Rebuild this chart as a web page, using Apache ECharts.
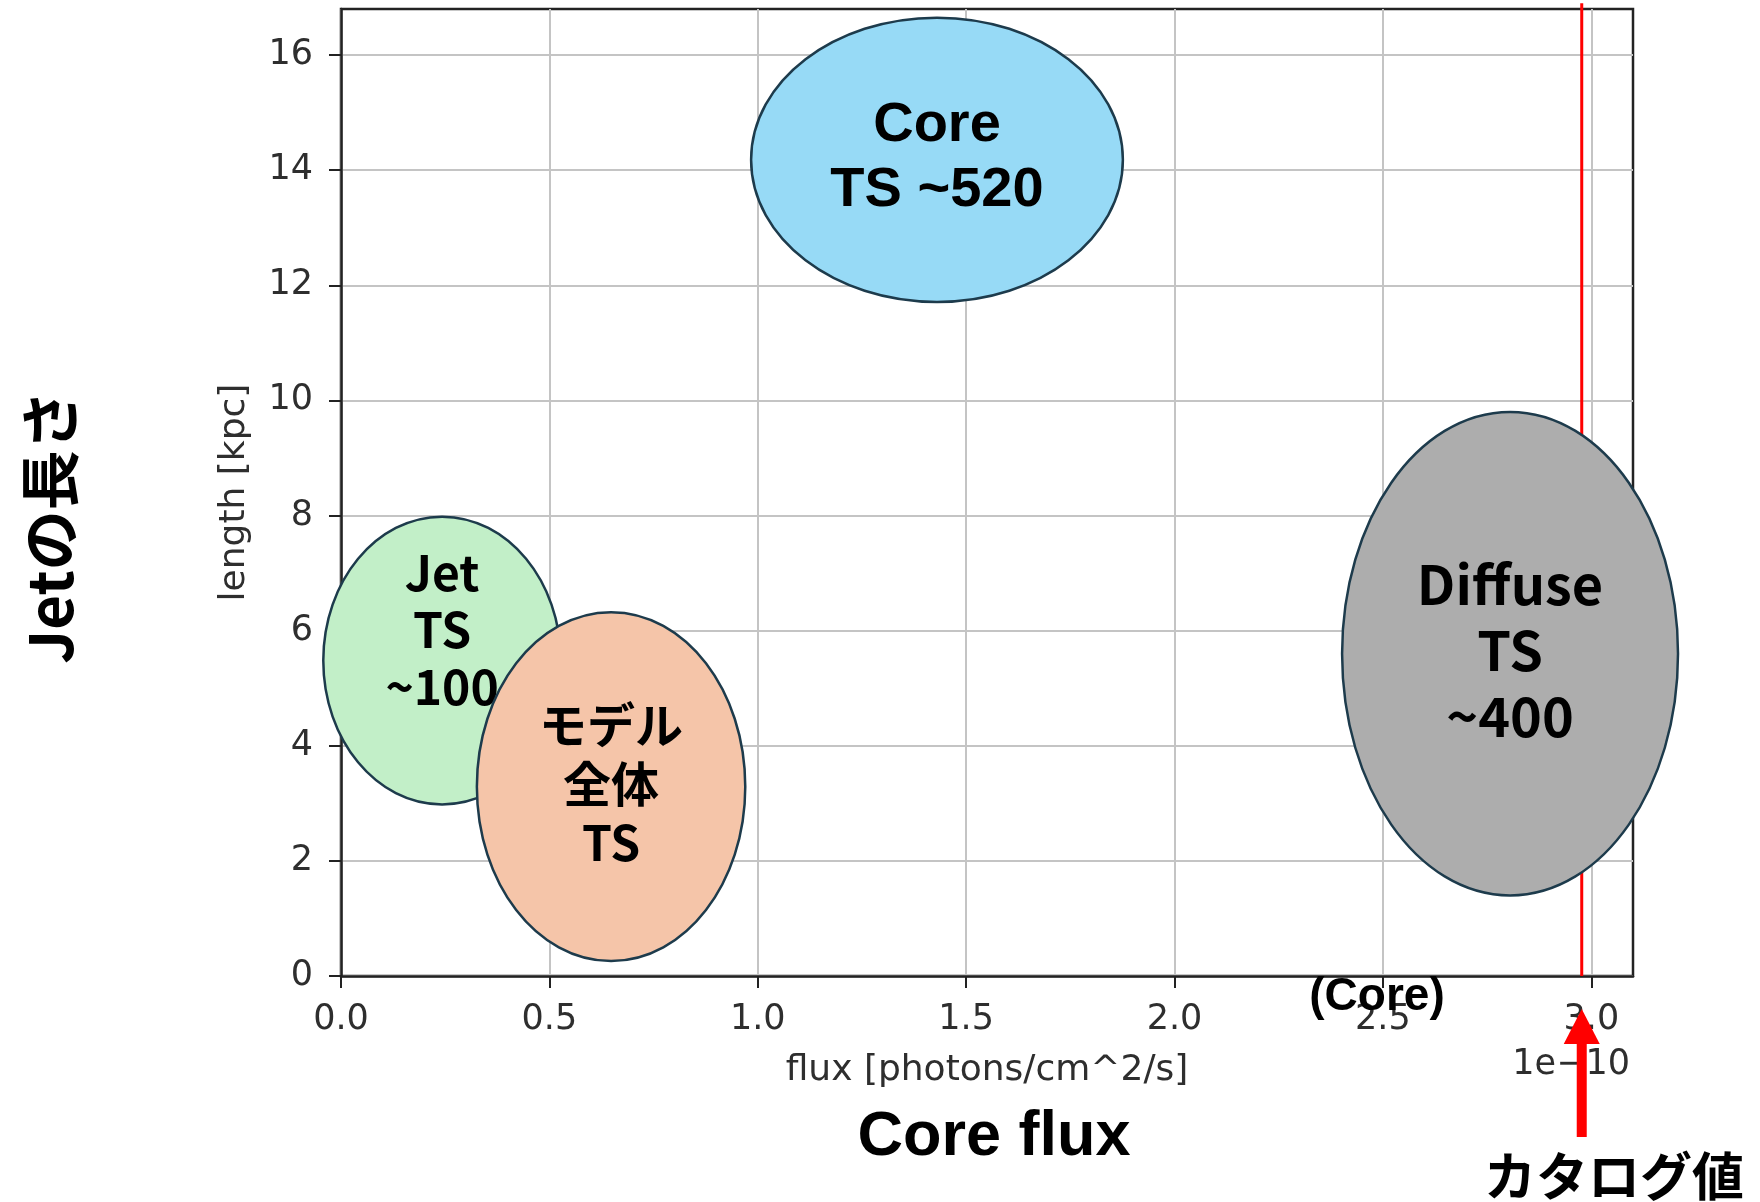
<!DOCTYPE html>
<html><head><meta charset="utf-8">
<script src="https://cdn.jsdelivr.net/npm/echarts@6/dist/echarts.min.js"></script>
<style>html,body{margin:0;padding:0;background:#fff}#c{width:1760px;height:1202px}</style>
</head><body><div id="c"></div>
<script>
// ---- data (flux in units of 1e-10 photons/cm^2/s, length in kpc) ----
const xTicks = [0, 0.5, 1.0, 1.5, 2.0, 2.5, 3.0];
const yTicks = [0, 2, 4, 6, 8, 10, 12, 14, 16];
const regionNames = ['Core', 'Diffuse', 'Jet', 'Model'];
const regionLabels = ['Core\nTS ~520', 'Diffuse\nTS\n~400', 'Jet\nTS\n~100', 'モデル\n全体\nTS'];
const centerFlux = [1.43, 2.805, 0.2425, 0.648];
const centerLength = [14.18, 5.60, 5.48, 3.29];
const halfWidthFlux = [0.446, 0.403, 0.285, 0.322];
const halfHeightLength = [2.47, 4.20, 2.50, 3.03];
const catalogFlux = 2.977;
const catalogLineLength = [0, 16.9];
const xRange = [0, 3.1];
const yRange = [0, 16.8];

// ---- styles ----
const regionStyle = [
  {fill: '#97daf6', font: 'bold 56px "Liberation Sans", "Noto Sans CJK JP"', lh: 65, dy: -2},
  {fill: '#adadad', font: 'bold 54px "Noto Sans CJK JP"', lh: 66, dy: -3},
  {fill: '#c2efc8', font: 'bold 48px "Noto Sans CJK JP"', lh: 57, dy: -31},
  {fill: '#f5c5a9', font: 'bold 48px "Noto Sans CJK JP"', lh: 59, dy: -3}
];
const tickFont = '"DejaVu Sans", sans-serif';
const tickColor = '#2e2e2e';

const chart = echarts.init(document.getElementById('c'), null, {renderer: 'canvas'});
const ellipseData = regionNames.map((n, i) => ({
  name: n,
  value: [centerFlux[i], centerLength[i], halfWidthFlux[i], halfHeightLength[i]]
}));

chart.setOption({
  animation: false,
  backgroundColor: '#fff',
  grid: {left: 341, right: 127, top: 9, bottom: 226, show: true, borderColor: '#222', borderWidth: 2.5, backgroundColor: 'transparent'},
  xAxis: {
    type: 'value', min: xRange[0], max: xRange[1], interval: 0.5,
    name: 'flux [photons/cm^2/s]', nameLocation: 'middle', nameGap: 77,
    nameTextStyle: {fontFamily: tickFont, fontSize: 36, color: tickColor},
    axisLine: {show: true, onZero: false, lineStyle: {color: '#222', width: 2.5}},
    axisTick: {show: true, length: 12, customValues: xTicks, lineStyle: {color: '#222', width: 2}},
    axisLabel: {customValues: xTicks, margin: 26, fontFamily: tickFont, fontSize: 35, color: tickColor,
      formatter: v => Math.abs(v * 2 - Math.round(v * 2)) < 1e-6 ? v.toFixed(1) : ''},
    splitLine: {show: true, lineStyle: {color: '#c4c4c4', width: 2}}
  },
  yAxis: {
    type: 'value', min: yRange[0], max: yRange[1], interval: 2,
    name: 'length [kpc]', nameLocation: 'middle', nameGap: 88,
    nameTextStyle: {fontFamily: tickFont, fontSize: 36, color: tickColor},
    axisLine: {show: true, onZero: false, lineStyle: {color: '#222', width: 2.5}},
    axisTick: {show: true, length: 12, customValues: yTicks, lineStyle: {color: '#222', width: 2}},
    axisLabel: {customValues: yTicks, margin: 28, fontFamily: tickFont, fontSize: 35, color: tickColor,
      formatter: v => Math.abs(v / 2 - Math.round(v / 2)) < 1e-6 ? String(Math.round(v)) : ''},
    splitLine: {show: true, lineStyle: {color: '#c4c4c4', width: 2}}
  },
  series: [
    {
      type: 'line', z: 1, clip: false, symbol: 'none',
      data: catalogLineLength.map(l => [catalogFlux, l]),
      lineStyle: {color: '#ff0000', width: 3}
    },
    {
      type: 'custom', z: 3, clip: false,
      data: ellipseData,
      renderItem: (params, api) => {
        const i = params.dataIndex;
        const cx = api.value(0), cy = api.value(1), rx = api.value(2), ry = api.value(3);
        const c = api.coord([cx, cy]);
        const p = api.coord([cx + rx, cy + ry]);
        const RX = Math.abs(p[0] - c[0]), RY = Math.abs(c[1] - p[1]);
        const st = regionStyle[i];
        return {
          type: 'group',
          children: [
            {type: 'ellipse', shape: {cx: c[0], cy: c[1], rx: RX, ry: RY},
             style: {fill: st.fill, stroke: '#1d3b4c', lineWidth: 2.5}},
            {type: 'text', x: c[0], y: c[1] + st.dy,
             style: {text: regionLabels[i], font: st.font, fill: '#000', align: 'center', verticalAlign: 'middle', lineHeight: st.lh}}
          ]
        };
      }
    }
  ]
});

const px = chart.convertToPixel({xAxisIndex: 0}, catalogFlux);
chart.setOption({
  graphic: [
    {type: 'text', x: 50, y: 527, rotation: Math.PI / 2,
     style: {text: 'Jetの長さ', font: 'bold 60px "Noto Sans CJK JP"', fill: '#000', align: 'center', verticalAlign: 'middle'}},
    {type: 'text', x: 994, y: 1138,
     style: {text: 'Core flux', font: 'bold 63px "Liberation Sans"', fill: '#000', align: 'center', verticalAlign: 'middle'}},
    {type: 'text', x: 1377, y: 997, z: 10,
     style: {text: '(Core)', font: 'bold 46px "Liberation Sans"', fill: '#000', align: 'center', verticalAlign: 'middle'}},
    {type: 'text', x: 1614, y: 1176,
     style: {text: 'カタログ値', font: 'bold 52px "Noto Sans CJK JP"', fill: '#000', align: 'center', verticalAlign: 'middle'}},
    {type: 'text', x: 1630, y: 1065,
     style: {text: '1e\u221210', font: '35px "DejaVu Sans"', fill: tickColor, align: 'right', verticalAlign: 'middle'}},
    {type: 'rect', z: 11, shape: {x: px - 5, y: 1040, width: 10, height: 97}, style: {fill: '#ff0000'}},
    {type: 'polygon', z: 11, shape: {points: [[px - 18, 1044], [px + 18, 1044], [px, 1009]]}, style: {fill: '#ff0000'}}
  ]
});
</script>
</body></html>
